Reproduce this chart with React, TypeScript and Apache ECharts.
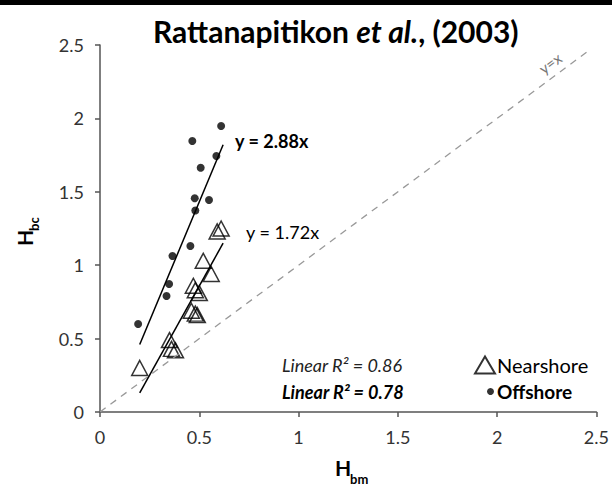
import React, { useEffect, useRef } from "react";
import * as echarts from "echarts";

// Nearshore (triangles): [Hbm, Hbc]
const nearshoreX = [0.2, 0.35, 0.36, 0.38, 0.46, 0.48, 0.49, 0.47, 0.48, 0.5, 0.52, 0.56, 0.59, 0.61];
const nearshoreY = [0.3, 0.49, 0.43, 0.42, 0.69, 0.67, 0.66, 0.86, 0.83, 0.81, 1.03, 0.94, 1.23, 1.25];

// Offshore (dots)
const offshoreX = [0.61, 0.465, 0.586, 0.507, 0.477, 0.549, 0.48, 0.455, 0.365, 0.348, 0.335, 0.192];
const offshoreY = [1.948, 1.846, 1.744, 1.664, 1.456, 1.444, 1.373, 1.131, 1.063, 0.872, 0.79, 0.6];

// Trend lines (end points in data units)
const offshoreTrendX = [0.2, 0.62];
const offshoreTrendY = [0.46, 1.82];
const nearshoreTrendX = [0.2, 0.62];
const nearshoreTrendY = [0.13, 1.15];
const identityX = [0, 2.45];
const identityY = [0, 2.45];

const xTicks = [0, 0.5, 1, 1.5, 2, 2.5];

const FONT = "Lato, 'Open Sans', sans-serif";

const zip = (a: number[], b: number[]) => a.map((v, i) => [v, b[i]]);

export default function App() {
  const ref = useRef<HTMLDivElement>(null);
  useEffect(() => {
    if (!ref.current) return;
    const chart = echarts.init(ref.current, undefined, { renderer: "svg" });
    const axisColor = "#555";
    chart.setOption({
      animation: false,
      backgroundColor: "#fff",
      title: {
        text: "{a|Rattanapitikon }{b|et al.}{a|, (2003)}",
        left: 148,
        top: 11,
        textStyle: {
          rich: {
            a: { fontFamily: FONT, fontWeight: "bold", fontSize: 30, color: "#000" },
            b: { fontFamily: FONT, fontWeight: "bold", fontStyle: "italic", fontSize: 30, color: "#000" },
          },
        },
      },
      grid: { left: 100, right: 14, top: 45, bottom: 78 },
      xAxis: {
        type: "value",
        min: xTicks[0],
        max: xTicks[xTicks.length - 1],
        interval: 0.5,
        axisLine: { show: true, lineStyle: { color: axisColor, width: 1.5 } },
        axisTick: { show: true, length: 5, lineStyle: { color: axisColor, width: 1.5 } },
        splitLine: { show: false },
        axisLabel: { fontFamily: FONT, fontSize: 18, color: "#333", margin: 16 },
      },
      yAxis: {
        type: "value",
        min: 0,
        max: 2.5,
        interval: 0.5,
        axisLine: { show: true, lineStyle: { color: axisColor, width: 1.5 } },
        axisTick: { show: true, length: 5, lineStyle: { color: axisColor, width: 1.5 } },
        splitLine: { show: false },
        axisLabel: { fontFamily: FONT, fontSize: 18, color: "#333", margin: 16 },
      },
      legend: [
        {
          data: [{ name: "Nearshore", icon: "triangle" }],
          left: 474,
          top: 355,
          padding: 0,
          itemWidth: 20,
          itemHeight: 17,
          selectedMode: false,
          textStyle: { fontFamily: FONT, fontSize: 20, color: "#000", padding: [0, 0, 0, -3] },
        },
        {
          data: [{ name: "Offshore", icon: "circle" }],
          left: 487,
          top: 382,
          padding: 0,
          itemWidth: 7,
          itemHeight: 7,
          selectedMode: false,
          textStyle: { fontFamily: FONT, fontSize: 19, fontWeight: "bold", color: "#000", padding: [0, 0, 0, -2] },
        },
      ],
      series: [
        {
          name: "y=x",
          type: "line",
          data: zip(identityX, identityY),
          symbol: "none",
          lineStyle: { color: "#999", width: 1.3, type: [7, 6] },
          silent: true,
        },
        {
          name: "Offshore fit",
          type: "line",
          data: zip(offshoreTrendX, offshoreTrendY),
          symbol: "none",
          lineStyle: { color: "#000", width: 1.5 },
          endLabel: {
            show: true,
            formatter: "y = 2.88x",
            fontFamily: FONT,
            fontSize: 18,
            fontWeight: "bold",
            color: "#000",
            offset: [4, -4],
          },
          silent: true,
        },
        {
          name: "Nearshore fit",
          type: "line",
          data: zip(nearshoreTrendX, nearshoreTrendY),
          symbol: "none",
          lineStyle: { color: "#000", width: 1.5 },
          endLabel: {
            show: true,
            formatter: "y = 1.72x",
            fontFamily: FONT,
            fontSize: 18,
            color: "#000",
            offset: [15, -11],
          },
          silent: true,
        },
        {
          name: "Nearshore",
          type: "scatter",
          data: zip(nearshoreX, nearshoreY),
          symbol: "triangle",
          symbolSize: [16, 15],
          itemStyle: { color: "rgba(255,255,255,0)", borderColor: "#000", borderWidth: 1.5 },
        },
        {
          name: "Offshore",
          type: "scatter",
          data: zip(offshoreX, offshoreY),
          symbol: "circle",
          symbolSize: 8,
          itemStyle: { color: "#000" },
        },
      ],
      graphic: [
        { type: "rect", left: 0, top: 0, shape: { width: 612, height: 5 }, style: { fill: "#000" } },
        {
          type: "text",
          x: 550,
          y: 63,
          rotation: 0.636,
          style: { text: "y=x", align: "center", verticalAlign: "middle", fill: "#777", font: `15px ${FONT}` },
        },
        {
          type: "text",
          x: 282,
          y: 365,
          style: { text: "Linear R\u00B2 = 0.86", verticalAlign: "middle", fill: "#222", font: `italic 18px ${FONT}` },
        },
        {
          type: "text",
          x: 282,
          y: 392,
          style: { text: "Linear R\u00B2 = 0.78", verticalAlign: "middle", fill: "#000", font: `italic bold 18px ${FONT}` },
        },
        {
          type: "text",
          x: 343,
          y: 467,
          style: { text: "H", align: "center", verticalAlign: "middle", fill: "#000", font: `bold 21px ${FONT}` },
        },
        {
          type: "text",
          x: 350,
          y: 479,
          style: { text: "bm", align: "left", verticalAlign: "middle", fill: "#000", font: `bold 13px ${FONT}` },
        },
        {
          type: "text",
          x: 24,
          y: 238,
          rotation: Math.PI / 2,
          style: { text: "H", align: "center", verticalAlign: "middle", fill: "#000", font: `bold 21px ${FONT}` },
        },
        {
          type: "text",
          x: 34,
          y: 231,
          rotation: Math.PI / 2,
          style: { text: "bc", align: "left", verticalAlign: "middle", fill: "#000", font: `bold 13px ${FONT}` },
        },
      ],
    });
    return () => chart.dispose();
  }, []);
  return (
    <div
      ref={ref}
      style={{ position: "fixed", left: 0, top: 0, width: 612, height: 490, background: "#fff" }}
    />
  );
}
